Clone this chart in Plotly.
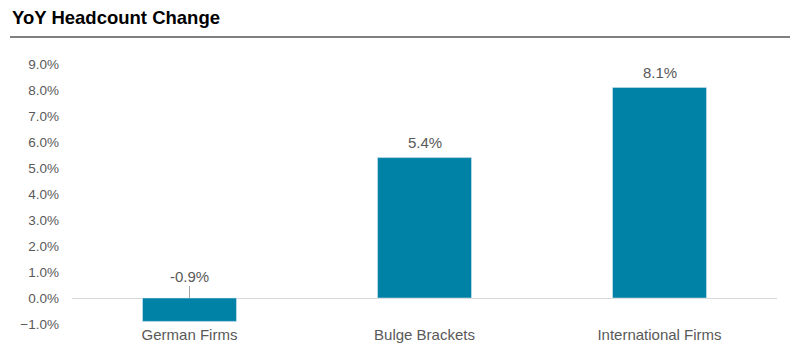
import plotly.graph_objects as go

categories = ["German Firms", "Bulge Brackets", "International Firms"]
values = [-0.009, 0.054, 0.081]
tick_vals = [-0.01, 0.0, 0.01, 0.02, 0.03, 0.04, 0.05, 0.06, 0.07, 0.08, 0.09]

BAR = "#0082A7"
GREY = "#595959"
FONT = "Liberation Sans, Arial, sans-serif"

PL, PR, PT, PB = 72, 777, 64, 324
PW, PH = PR - PL, PB - PT

fig = go.Figure(go.Bar(x=categories, y=values, marker_color=BAR, width=0.4,
                       hoverinfo="skip"))

annotations = []
for c, v in zip(categories, values):
    label = f"{v*100:.1f}%"
    if v >= 0:
        annotations.append(dict(x=c, y=v, text=label, showarrow=False, yanchor="middle",
                                yshift=15, font=dict(size=15, color=GREY, family=FONT)))
    else:
        annotations.append(dict(x=c, y=0, text=label, showarrow=True, arrowhead=0,
                                arrowwidth=1, arrowcolor="#a6a6a6", ax=0, ay=-22,
                                standoff=0, font=dict(size=15, color=GREY, family=FONT)))

annotations.append(dict(text="<b>YoY Headcount Change</b>", xref="paper", yref="paper",
                        x=(10 - PL) / PW, y=(PB - 18) / PH, xanchor="left", yanchor="middle",
                        showarrow=False,
                        font=dict(size=18.5, color="#000000", family=FONT)))

fig.update_layout(
    width=801, height=361,
    margin=dict(l=PL, r=801 - PR, t=PT, b=361 - PB),
    paper_bgcolor="white", plot_bgcolor="white",
    showlegend=False,
    annotations=annotations,
    shapes=[dict(type="line", xref="paper", yref="paper",
                 x0=(10 - PL) / PW, x1=(790 - PL) / PW, y0=(PB - 37) / PH, y1=(PB - 37) / PH,
                 line=dict(color="#000000", width=1))],
    xaxis=dict(showgrid=False, showline=False, ticks="",
               tickfont=dict(size=15, color=GREY, family=FONT)),
    yaxis=dict(range=[-0.01, 0.09], tickvals=tick_vals, tickformat=".1%",
               showgrid=False, zeroline=True, zerolinecolor="#d9d9d9", zerolinewidth=1,
               showline=False, ticks="", ticklabelstandoff=12,
               tickfont=dict(size=13.5, color=GREY, family=FONT)),
)

fig.write_html("out.html", config={"displayModeBar": False},
               post_script="document.body.style.margin='0';document.body.style.overflow='hidden';")
